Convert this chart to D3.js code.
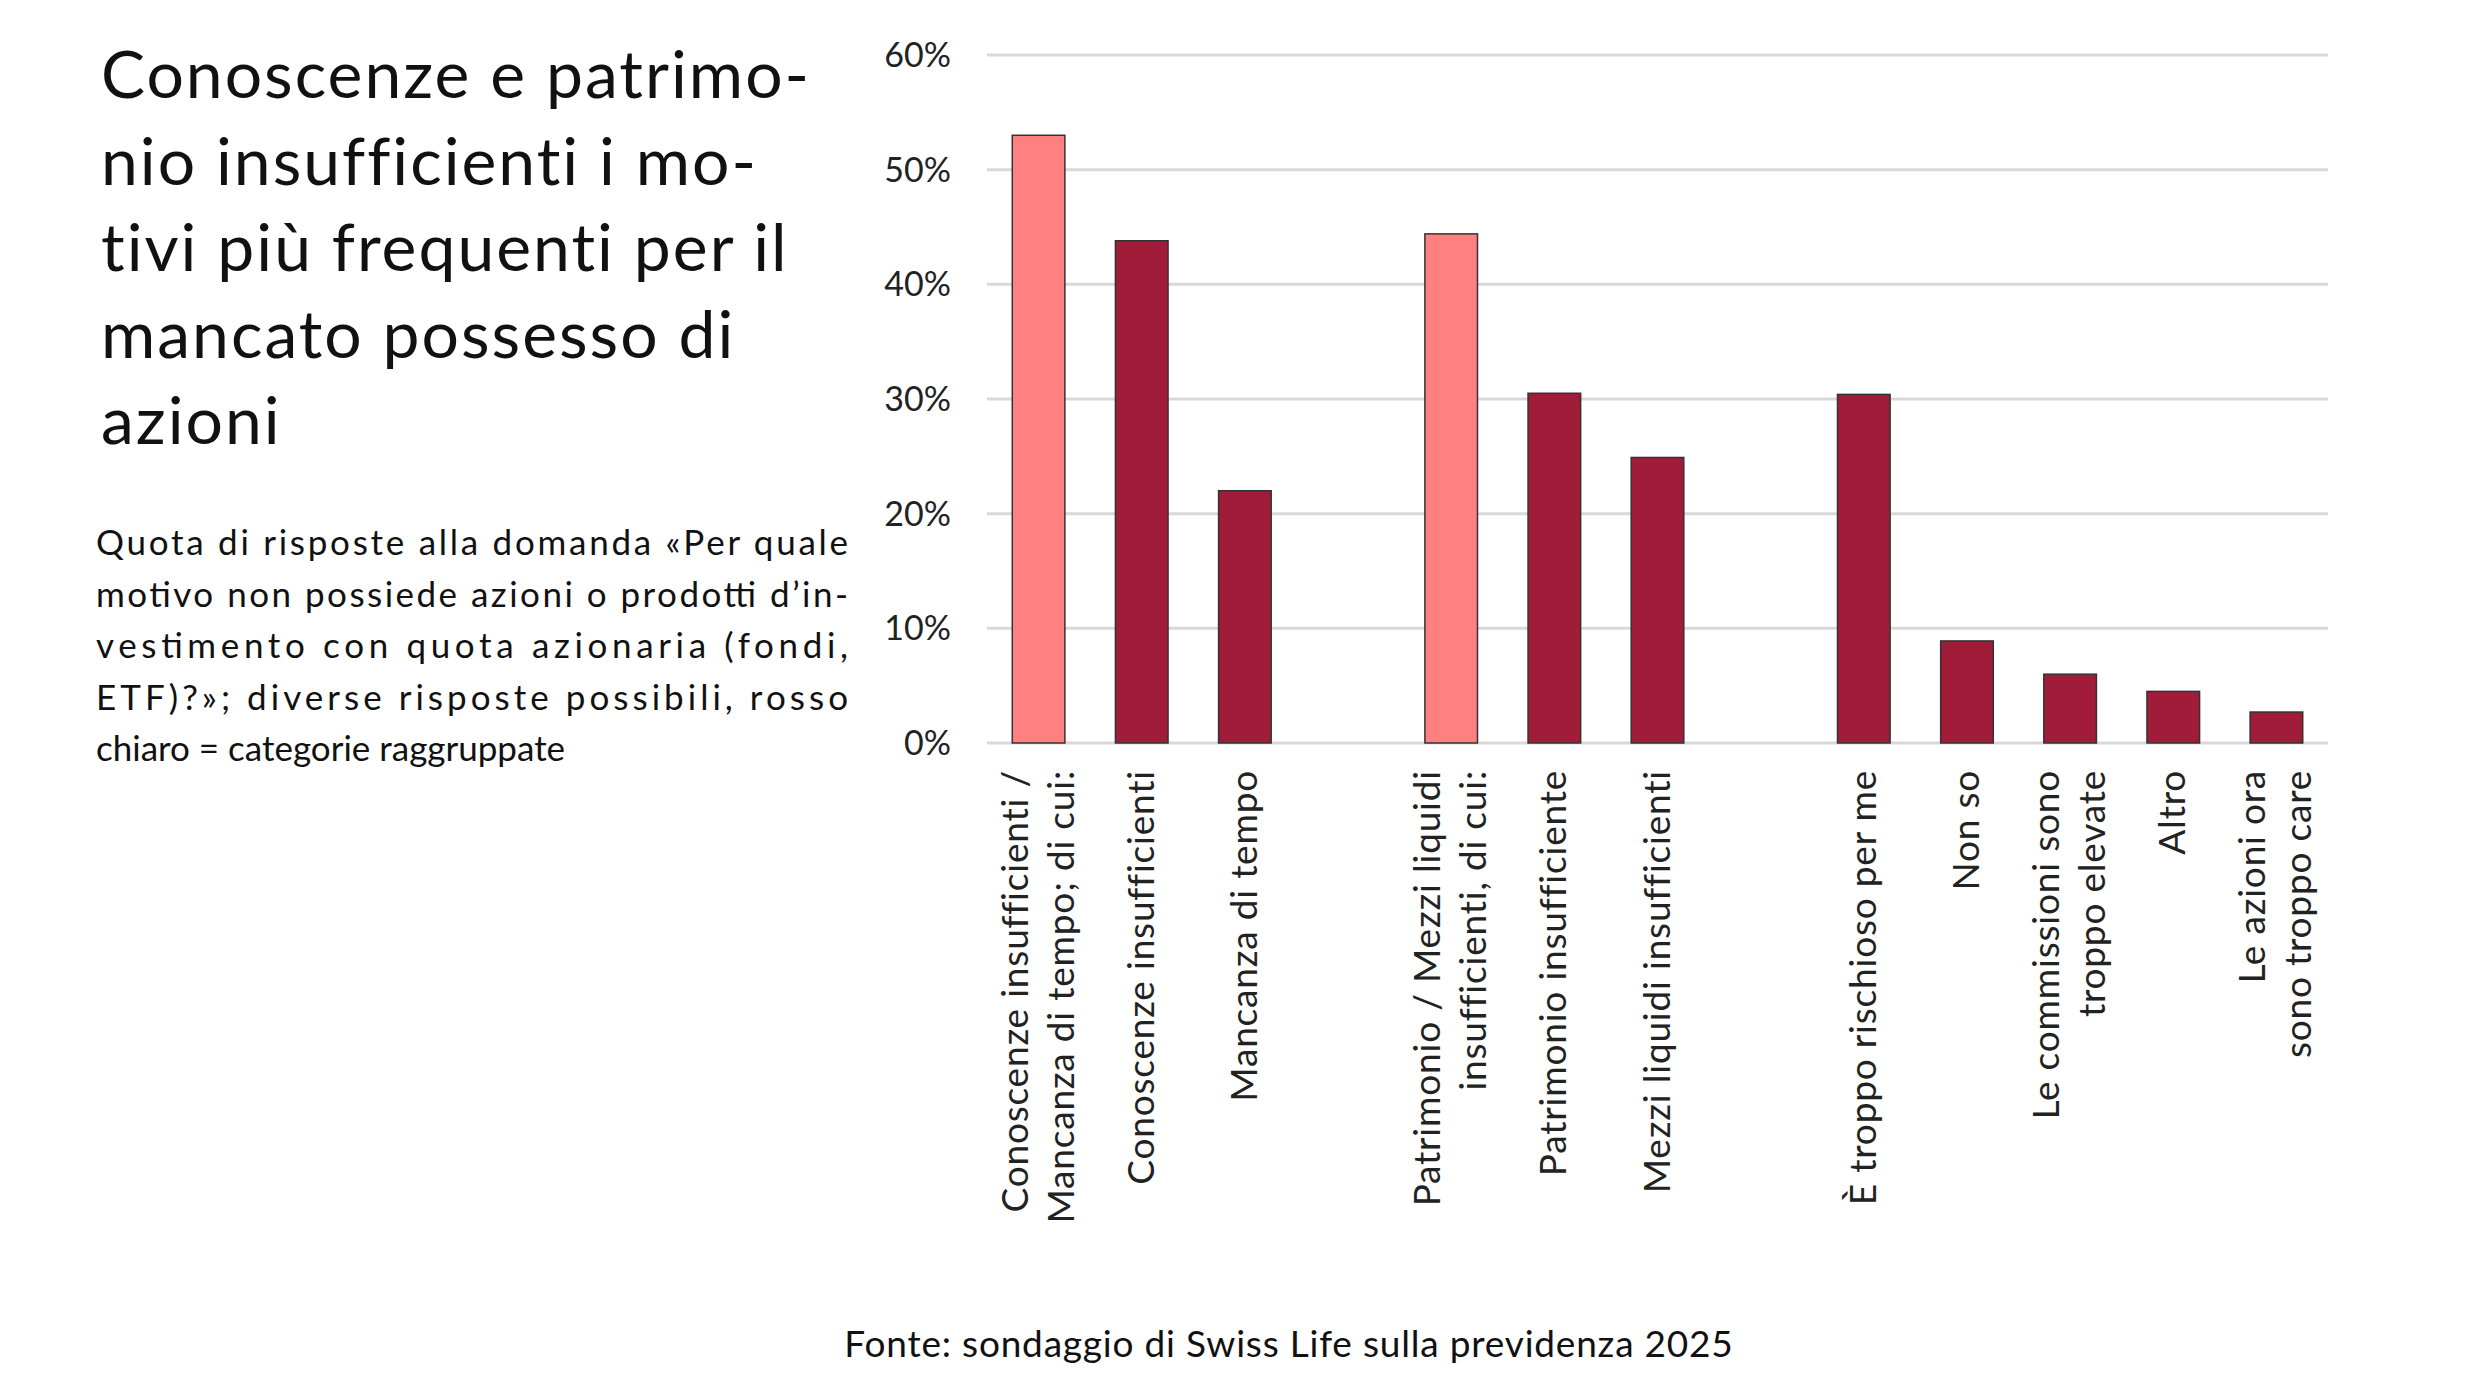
<!DOCTYPE html>
<html><head><meta charset="utf-8">
<script src="https://cdn.jsdelivr.net/npm/d3@7"></script>
<style>body{margin:0;background:#fff}</style></head>
<body><svg id="c" width="2480" height="1395"></svg>
<script>
const slots = ["c1","c2","c3","g1","c4","c5","c6","g2","c7","c8","c9","c10","c11"];
const labels = [["Conoscenze insufficienti /","Mancanza di tempo; di cui:"],["Conoscenze insufficienti"],["Mancanza di tempo"],[],
 ["Patrimonio / Mezzi liquidi","insufficienti, di cui:"],["Patrimonio insufficiente"],["Mezzi liquidi insufficienti"],[],
 ["È troppo rischioso per me"],["Non so"],["Le commissioni sono","troppo elevate"],["Altro"],["Le azioni ora","sono troppo care"]];
const values = [53.0,43.8,22.0,null,44.4,30.5,24.9,null,30.4,8.9,6.0,4.5,2.7];
const grouped = [true,false,false,false,true,false,false,false,false,false,false,false,false];
const yTicks = [0,10,20,30,40,50,60];
const titleLines = ["Conoscenze e patrimo-","nio insufficienti i mo-","tivi più frequenti per il","mancato possesso di","azioni"];
const subLines = ["Quota di risposte alla domanda «Per quale","motivo non possiede azioni o prodotti d’in-","vestimento con quota azionaria (fondi,","ETF)?»; diverse risposte possibili, rosso","chiaro = categorie raggruppate"];
const source = "Fonte: sondaggio di Swiss Life sulla previdenza 2025";

const F = "Lato, 'Open Sans', sans-serif";
const svg = d3.select("#c");
const x = d3.scaleBand().domain(slots).range([987,2328]).paddingInner(0.49).paddingOuter(0.245);
const y = d3.scaleLinear().domain([0,60]).range([743,55]);

svg.append("g").selectAll("line").data(yTicks).join("line")
 .attr("x1",987).attr("x2",2328).attr("y1",d=>y(d)).attr("y2",d=>y(d))
 .attr("stroke","#d9d9d9").attr("stroke-width",3);
svg.append("g").selectAll("text").data(yTicks).join("text")
 .attr("x",951).attr("y",d=>y(d)+12).attr("text-anchor","end")
 .attr("font-family",F).attr("font-size",34).attr("fill","#222").text(d=>d+"%");

const data = slots.map((s,i)=>({s,v:values[i],g:grouped[i],l:labels[i]}));
svg.append("g").selectAll("rect").data(data.filter(d=>d.v!==null)).join("rect")
 .attr("x",d=>x(d.s)).attr("width",x.bandwidth()).attr("y",d=>y(d.v)).attr("height",d=>y(0)-y(d.v))
 .attr("fill",d=>d.g?"#FF8080":"#A01C38").attr("stroke","#333").attr("stroke-width",1.5);

const lg = svg.append("g").selectAll("g").data(data.filter(d=>d.l.length)).join("g")
 .attr("transform",d=>`translate(${x(d.s)+x.bandwidth()/2},770) rotate(-90)`);
lg.each(function(d){
  const n=d.l.length;
  d3.select(this).selectAll("text").data(d.l).join("text")
   .attr("x",0).attr("y",(t,i)=>12+(i-(n-1)/2)*46).attr("text-anchor","end")
   .attr("font-family",F).attr("font-size",37).attr("letter-spacing",0.8).attr("fill","#222").text(t=>t);
});

svg.append("g").selectAll("text").data(titleLines).join("text")
 .attr("x",101).attr("y",(d,i)=>98+i*86.5).attr("font-family",F).attr("font-size",66)
 .attr("letter-spacing",2).attr("fill","#111").text(d=>d);
svg.append("g").selectAll("text").data(subLines).join("text")
 .attr("x",96).attr("y",(d,i)=>555+i*51.5).attr("font-family",F).attr("font-size",35).attr("fill","#111")
 .attr("textLength",(d,i)=>i<4?752:null).attr("lengthAdjust","spacing").text(d=>d);
svg.append("text").attr("x",1289).attr("y",1357).attr("text-anchor","middle")
 .attr("font-family",F).attr("font-size",37).attr("letter-spacing",0.8).attr("fill","#111").text(source);
</script></body></html>
